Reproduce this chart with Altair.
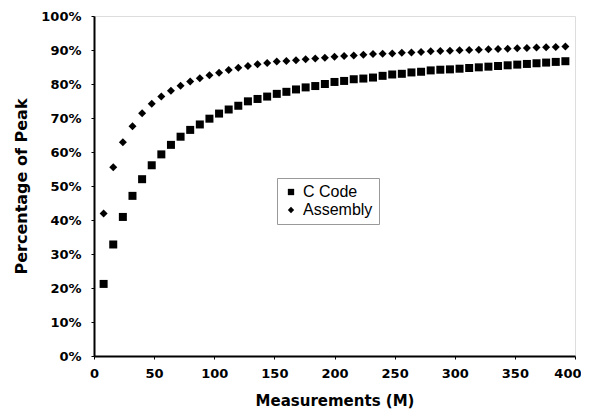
import altair as alt
import pandas as pd

measurements = [8, 16, 24, 32, 40, 48, 56, 64, 72, 80, 88, 96, 104, 112, 120, 128,
                136, 144, 152, 160, 168, 176, 184, 192, 200, 208, 216, 224, 232, 240,
                248, 256, 264, 272, 280, 288, 296, 304, 312, 320, 328, 336, 344, 352,
                360, 368, 376, 384, 392]

c_code = [21.2, 32.8, 40.9, 47.1, 52.0, 56.1, 59.3, 62.1, 64.5, 66.5, 68.1, 69.8,
          71.3, 72.5, 73.6, 74.9, 75.6, 76.3, 77.1, 77.7, 78.4, 79.0, 79.4, 80.0,
          80.6, 80.9, 81.4, 81.6, 81.9, 82.4, 82.8, 83.0, 83.4, 83.6, 84.0, 84.2,
          84.3, 84.5, 84.7, 84.9, 85.1, 85.3, 85.5, 85.7, 85.9, 86.1, 86.3, 86.5, 86.7]

assembly = [41.9, 55.5, 62.9, 67.6, 71.4, 74.2, 76.3, 78.0, 79.5, 80.7, 81.7, 82.6,
            83.3, 84.1, 84.8, 85.3, 85.8, 86.2, 86.6, 86.8, 87.0, 87.3, 87.5, 87.7,
            88.0, 88.2, 88.4, 88.6, 88.8, 88.9, 89.0, 89.2, 89.3, 89.4, 89.6, 89.7,
            89.8, 89.9, 90.0, 90.1, 90.2, 90.3, 90.4, 90.5, 90.6, 90.7, 90.8, 90.9, 91.0]

series_names = ["C Code", "Assembly"]
series_shapes = ["square", "diamond"]

rows = []
for name, vals in zip(series_names, [c_code, assembly]):
    for m, v in zip(measurements, vals):
        rows.append({"Measurements": m, "Percent": v, "Series": name})
df = pd.DataFrame(rows)

title_font = "DejaVu Sans"

chart = alt.Chart(df).mark_point(filled=True, opacity=1, color="black", size=64).encode(
    x=alt.X("Measurements:Q",
            scale=alt.Scale(domain=[0, 400], nice=False),
            axis=alt.Axis(values=[0, 50, 100, 150, 200, 250, 300, 350, 400],
                          title="Measurements (M)", grid=False,
                          labelFont=title_font, labelFontWeight="bold", labelFontSize=13,
                          labelColor="black", labelPadding=8, labelFlush=False,
                          labelAlign={"expr": "datum.value == 400 ? 'right' : 'center'"},
                          labelOffset={"expr": "datum.value == 400 ? 6 : 0"},
                          tickSize=3, tickColor="black",
                          domainColor="black", domainWidth=2,
                          titleFont=title_font, titleFontWeight="bold", titleFontSize=15,
                          titleColor="black", titleY=44, titleBaseline="middle")),
    y=alt.Y("Percent:Q",
            scale=alt.Scale(domain=[0, 100], nice=False),
            axis=alt.Axis(values=[0, 10, 20, 30, 40, 50, 60, 70, 80, 90, 100],
                          labelExpr="datum.value + '%'",
                          title="Percentage of Peak", grid=False,
                          labelFont=title_font, labelFontWeight="bold", labelFontSize=13,
                          labelColor="black", labelPadding=10, labelFlush=False,
                          tickSize=3, tickColor="black",
                          domainColor="black", domainWidth=2,
                          titleFont=title_font, titleFontWeight="bold", titleFontSize=16,
                          titleColor="black", titleX=-73, titleY=170,
                          titleAngle=-90, titleAlign="center", titleBaseline="middle")),
    shape=alt.Shape("Series:N",
                    scale=alt.Scale(domain=series_names, range=series_shapes),
                    legend=alt.Legend(title=None, orient="none", legendX=183, legendY=162,
                                      labelFont="Liberation Sans", labelFontSize=16,
                                      labelColor="black", symbolSize=40,
                                      symbolFillColor="black", symbolStrokeColor="black",
                                      padding=6, strokeColor="#999999",
                                      fillColor="white")),
).properties(
    width=481, height=340,
    padding={"left": 86, "top": 8, "right": 6, "bottom": 53},
    autosize=alt.AutoSizeParams(type="none"),
).configure_view(
    stroke="black", strokeWidth=1.5
).configure_legend(
    strokeDash=[2, 2], rowPadding=2
).configure(background="white")

chart.save("out.html", embed_options={"renderer": "svg", "actions": False})
